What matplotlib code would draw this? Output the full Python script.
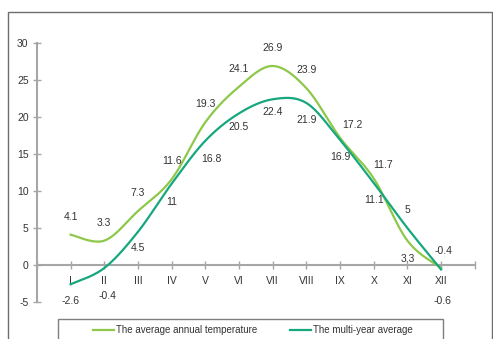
import numpy as np
import matplotlib
matplotlib.use("Agg")
import matplotlib.pyplot as plt
from matplotlib.patches import Rectangle

plt.rcParams['font.family'] = ['Liberation Sans', 'DejaVu Sans']
plt.rcParams['axes.unicode_minus'] = False

# ====== DATA ======
months = ["I", "II", "III", "IV", "V", "VI", "VII", "VIII", "IX", "X", "XI", "XII"]
annual_temp = [4.1, 3.3, 7.3, 11.6, 19.3, 24.1, 26.9, 23.9, 17.2, 11.7, 3.3, -0.4]
multi_year = [-2.6, -0.4, 4.5, 11, 16.8, 20.5, 22.4, 21.9, 16.9, 11.1, 5, -0.6]

annual_color = "#8DC84A"
multi_color = "#17A77F"
axis_color = "#A6A6A6"
text_color = "#333333"


def smooth(xs, ys, n=40):
    # Bezier smoothing through every point (same idea as a spreadsheet "smoothed line")
    xs = np.asarray(xs, float)
    ys = np.asarray(ys, float)
    px = np.concatenate([[xs[0]], xs, [xs[-1]]])
    py = np.concatenate([[ys[0]], ys, [ys[-1]]])
    out_x, out_y = [], []
    t = np.linspace(0, 1, n)
    for i in range(1, len(px) - 2):
        p0 = np.array([px[i], py[i]])
        p3 = np.array([px[i + 1], py[i + 1]])
        c1 = p0 + (np.array([px[i + 1], py[i + 1]]) - np.array([px[i - 1], py[i - 1]])) / 6
        c2 = p3 - (np.array([px[i + 2], py[i + 2]]) - np.array([px[i], py[i]])) / 6
        b = ((1 - t) ** 3)[:, None] * p0 + (3 * (1 - t) ** 2 * t)[:, None] * c1 \
            + (3 * (1 - t) * t ** 2)[:, None] * c2 + (t ** 3)[:, None] * p3
        out_x.extend(b[:, 0])
        out_y.extend(b[:, 1])
    return np.array(out_x), np.array(out_y)


fig = plt.figure(figsize=(4.93, 3.39), dpi=100)
ax = fig.add_axes([0.075, 0.109, 0.888, 0.764])

x = np.arange(1, len(months) + 1)

sx, sy = smooth(x, annual_temp)
ax.plot(sx, sy, color=annual_color, lw=1.6, label="The average annual temperature", zorder=3)
mx, my = smooth(x, multi_year)
ax.plot(mx, my, color=multi_color, lw=1.6, label="The multi-year average", zorder=4)

# value labels: annual above, multi-year below (a few nudged to keep clear)
annual_offsets = {8: (9, 9), 9: (7, 10), 10: (0, -13), 11: (2, 12)}
for i, v in enumerate(annual_temp):
    dx, dy = annual_offsets.get(i, (0, 13))
    ax.annotate(f"{v:g}", (x[i], v), xytext=(dx, dy), textcoords="offset points",
                ha="center", va="center", fontsize=7.5, color=text_color)
multi_offsets = {1: (2, -20), 3: (0, -13), 4: (4, -13), 5: (0, -10), 6: (0, -9),
                 10: (0, 13), 11: (1, -23)}
for i, v in enumerate(multi_year):
    dx, dy = multi_offsets.get(i, (0, -12))
    ax.annotate(f"{v:g}", (x[i], v), xytext=(dx, dy), textcoords="offset points",
                ha="center", va="center", fontsize=7.5, color=text_color)

ax.set_xlim(0, 13)
ax.set_ylim(-5, 30)
ax.set_yticks(np.arange(-5, 31, 5))
ax.set_xticks(np.arange(0, 14))
ax.set_xticklabels([""] + months + [""])

for s in ["top", "right"]:
    ax.spines[s].set_visible(False)
ax.spines["bottom"].set_position(("data", 0))
ax.spines["left"].set_color(axis_color)
ax.spines["bottom"].set_color(axis_color)
ax.spines["left"].set_linewidth(1.5)
ax.spines["bottom"].set_linewidth(1.5)
ax.tick_params(axis="both", direction="inout", length=6, width=1, color=axis_color,
               labelsize=7.5, labelcolor=text_color)
ax.tick_params(axis="x", pad=5)
ax.tick_params(axis="y", pad=3)
ax.patch.set_visible(False)

# outer chart border
fig.add_artist(Rectangle((8 / 493, -0.05), 484 / 493, 1.05 - 12 / 339,
                         transform=fig.transFigure, fill=False, edgecolor="#6E6E6E", lw=1))

# legend box, partly running off the bottom edge
fig.add_artist(Rectangle((58 / 493, -0.05), 385 / 493, 0.05 + 20 / 339,
                         transform=fig.transFigure, fill=False, edgecolor="#7F7F7F", lw=1))
leg = fig.legend(loc="center", bbox_to_anchor=(253 / 493, 1 - 330 / 339),
                 ncol=2, fontsize=7, frameon=False,
                 handlelength=2.1, handletextpad=0.25, columnspacing=3.4)
for t in leg.get_texts():
    t.set_color(text_color)

fig.savefig("out.png", dpi=100)
